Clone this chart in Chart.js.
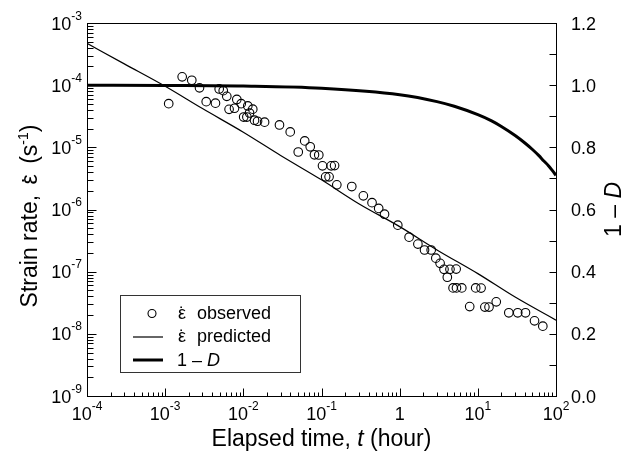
<!DOCTYPE html>
<html lang="en">
<head>
<meta charset="UTF-8">
<title>Strain rate vs elapsed time</title>
<script src="https://cdn.jsdelivr.net/npm/chart.js@4.4.1/dist/chart.umd.min.js"></script>
<style>
  html, body { margin: 0; padding: 0; background: #ffffff; }
  #wrap { width: 632px; height: 454px; }
</style>
</head>
<body>
<div id="wrap"><canvas id="strainChart" width="632" height="454"></canvas></div>
<script>
// observed strain rate (hour, 1/s)
const obsTime = [1.11e-3, 1.65e-3, 2.19e-3, 2.75e-3, 3.35e-3, 4.40e-3, 4.91e-3, 5.53e-3, 6.14e-3, 6.57e-3,
  7.71e-3, 8.25e-3, 9.39e-3, 1.14e-2, 1.32e-2, 1.20e-2, 1.01e-2, 1.11e-2, 1.39e-2, 1.52e-2,
  1.87e-2, 2.90e-2, 3.98e-2, 6.10e-2, 5.04e-2, 7.17e-2, 8.13e-2, 9.23e-2, 0.103, 0.133,
  0.147, 0.113, 0.125, 0.157, 0.244, 0.343, 0.443, 0.539, 0.640, 0.946,
  1.32, 1.71, 2.08, 2.53, 2.90, 3.29, 3.69, 4.40, 5.28, 4.07,
  4.82, 5.33, 6.23, 9.39, 11.0, 7.87, 12.3, 13.9, 17.2, 24.9,
  32.4, 40.7, 53.1, 67.8];
const obsRate = [5.04e-5, 1.36e-4, 1.20e-4, 9.06e-5, 5.43e-5, 5.13e-5, 8.69e-5, 8.16e-5, 6.61e-5, 4.09e-5,
  4.25e-5, 5.89e-5, 5.04e-5, 4.63e-5, 4.11e-5, 3.57e-5, 3.07e-5, 3.07e-5, 2.73e-5, 2.63e-5,
  2.54e-5, 2.29e-5, 1.77e-5, 1.27e-5, 8.41e-6, 1.02e-5, 7.59e-6, 7.53e-6, 5.04e-6, 5.04e-6,
  5.08e-6, 3.35e-6, 3.35e-6, 2.49e-6, 2.34e-6, 1.66e-6, 1.29e-6, 1.04e-6, 8.40e-7, 5.60e-7,
  3.59e-7, 2.78e-7, 2.23e-7, 2.23e-7, 1.65e-7, 1.36e-7, 1.09e-7, 1.09e-7, 1.10e-7, 8.13e-8,
  5.48e-8, 5.48e-8, 5.48e-8, 5.48e-8, 5.44e-8, 2.74e-8, 2.69e-8, 2.69e-8, 3.27e-8, 2.18e-8,
  2.18e-8, 2.18e-8, 1.62e-8, 1.33e-8];

// predicted strain rate
const predTime = [1e-4, 3e-4, 1e-3, 3e-3, 1e-2, 3e-2, 0.1, 0.3, 1, 3, 10, 30, 100];
const predRate = [4.7e-4, 2.2e-4, 9.6e-5, 4.2e-5, 1.75e-5, 7.4e-6, 3.0e-6, 1.24e-6, 5.3e-7, 2.24e-7, 9.3e-8, 3.9e-8, 1.66e-8];

// 1 - D (right axis)
const damTime = [1e-4, 1e-3, 1e-2, 0.1, 1, 3, 5, 10, 15, 20, 30, 40, 50, 60, 70, 80, 90, 100];
const damValue = [1.0, 0.999, 0.997, 0.99, 0.969, 0.947, 0.932, 0.905, 0.885, 0.867, 0.838, 0.814,
  0.793, 0.774, 0.756, 0.741, 0.725, 0.71];

const xTickExp = [-4, -3, -2, -1, 0, 1, 2];
const yTickExp = [-9, -8, -7, -6, -5, -4, -3];
const rightTicks = [0, 0.2, 0.4, 0.6, 0.8, 1.0, 1.2];

const FONT = '"Liberation Sans", Arial, sans-serif';
const EPS = '\u03B5';

function font(size, italic) {
  return (italic ? 'italic ' : '') + size + 'px ' + FONT;
}

// draw a list of text pieces side by side
function drawRuns(ctx, runs, x, y, align) {
  let total = 0;
  runs.forEach(r => {
    ctx.font = font(r.size, r.italic);
    r.w = ctx.measureText(r.text).width + (r.pad || 0);
    total += r.w;
  });
  let cx = x;
  if (align === 'center') cx = x - total / 2;
  if (align === 'right') cx = x - total;
  runs.forEach(r => {
    ctx.font = font(r.size, r.italic);
    ctx.textAlign = 'left';
    ctx.fillText(r.text, cx, y + (r.dy || 0));
    if (r.dot) {
      ctx.textAlign = 'center';
      ctx.fillText('\u02D9', cx + (r.w - (r.pad || 0)) / 2, y + (r.dy || 0) + r.size * 0.08);
      ctx.textAlign = 'left';
    }
    cx += r.w;
  });
}

function pow10Runs(e) {
  return [{ text: '10', size: 18 }, { text: String(e), size: 12, dy: -10 }];
}

const decorPlugin = {
  id: 'decor',
  afterDraw(chart) {
    const ctx = chart.ctx;
    const a = chart.chartArea;
    const xs = chart.scales.x, ys = chart.scales.y, y1 = chart.scales.y1;
    const L = Math.round(a.left) + 0.5, R = Math.round(a.right) + 0.5;
    const T = Math.round(a.top) + 0.5, B = Math.round(a.bottom) + 0.5;
    ctx.save();
    ctx.strokeStyle = '#000';
    ctx.fillStyle = '#000';
    ctx.lineWidth = 1;

    // frame
    ctx.strokeRect(L, T, R - L, B - T);

    // ticks
    ctx.beginPath();
    yTickExp.forEach((e, i) => {
      const v = Math.pow(10, e);
      const py = Math.round(ys.getPixelForValue(v)) + 0.5;
      ctx.moveTo(L, py); ctx.lineTo(L + 9, py);
      if (i < yTickExp.length - 1) {
        for (let m = 2; m <= 9; m++) {
          const q = Math.round(ys.getPixelForValue(m * v)) + 0.5;
          ctx.moveTo(L, q); ctx.lineTo(L + 6, q);
        }
      }
    });
    xTickExp.forEach((e, i) => {
      const v = Math.pow(10, e);
      const px = Math.round(xs.getPixelForValue(v)) + 0.5;
      ctx.moveTo(px, B); ctx.lineTo(px, B - 8);
      if (i < xTickExp.length - 1) {
        for (let m = 2; m <= 9; m++) {
          const q = Math.round(xs.getPixelForValue(m * v)) + 0.5;
          ctx.moveTo(q, B); ctx.lineTo(q, B - 4);
        }
      }
    });
    for (let k = 1; k < 12; k++) {
      const py = Math.round(y1.getPixelForValue(k / 10)) + 0.5;
      ctx.moveTo(R, py); ctx.lineTo(R - 7, py);
    }
    ctx.stroke();

    // tick labels
    ctx.textBaseline = 'alphabetic';
    yTickExp.forEach(e => {
      const py = ys.getPixelForValue(Math.pow(10, e));
      drawRuns(ctx, pow10Runs(e), 82, py + 6.5, 'right');
    });
    xTickExp.forEach(e => {
      const px = xs.getPixelForValue(Math.pow(10, e));
      const runs = e === 0 ? [{ text: '1', size: 18 }] : pow10Runs(e);
      drawRuns(ctx, runs, px, a.bottom + 24, 'center');
    });
    rightTicks.forEach(v => {
      const py = y1.getPixelForValue(v);
      drawRuns(ctx, [{ text: v.toFixed(1), size: 18 }], 571, py + 6.5, 'left');
    });

    // axis titles
    drawRuns(ctx, [{ text: 'Elapsed time, ', size: 23 }, { text: 't', size: 23, italic: true },
      { text: ' (hour)', size: 23 }], (a.left + a.right) / 2, 446, 'center');

    ctx.save();
    ctx.translate(37, 216);
    ctx.rotate(-Math.PI / 2);
    drawRuns(ctx, [{ text: 'Strain rate, ', size: 23, pad: 4 }, { text: EPS, size: 23, dot: true, pad: 4 },
      { text: ' (s', size: 23 }, { text: '-1', size: 14, dy: -9 }, { text: ')', size: 23 }], 0, 0, 'center');
    ctx.restore();

    ctx.save();
    ctx.translate(621, (a.top + a.bottom) / 2);
    ctx.rotate(-Math.PI / 2);
    drawRuns(ctx, [{ text: '1 \u2013 ', size: 23 }, { text: 'D', size: 23, italic: true }], 0, 0, 'center');
    ctx.restore();

    // legend
    ctx.fillStyle = '#fff';
    ctx.fillRect(120.5, 295.5, 180, 77);
    ctx.strokeStyle = '#333';
    ctx.lineWidth = 1;
    ctx.strokeRect(120.5, 295.5, 180, 77);
    ctx.strokeStyle = '#000';
    ctx.fillStyle = '#000';
    ctx.lineWidth = 1.1;
    ctx.beginPath();
    ctx.arc(152, 313.5, 4, 0, Math.PI * 2);
    ctx.stroke();
    ctx.lineWidth = 1.2;
    ctx.beginPath();
    ctx.moveTo(133, 337); ctx.lineTo(163, 337);
    ctx.stroke();
    ctx.lineWidth = 3;
    ctx.beginPath();
    ctx.moveTo(133, 360); ctx.lineTo(163, 360);
    ctx.stroke();
    drawRuns(ctx, [{ text: EPS, size: 18, dot: true }], 178, 318.5, 'left');
    drawRuns(ctx, [{ text: 'observed', size: 18 }], 197, 318.5, 'left');
    drawRuns(ctx, [{ text: EPS, size: 18, dot: true }], 178, 342, 'left');
    drawRuns(ctx, [{ text: 'predicted', size: 18 }], 197, 342, 'left');
    drawRuns(ctx, [{ text: '1 \u2013 ', size: 18 }, { text: 'D', size: 18, italic: true }], 177, 365.5, 'left');

    ctx.restore();
  }
};

const hidden = { display: false };

new Chart(document.getElementById('strainChart'), {
  type: 'scatter',
  data: {
    datasets: [
      {
        label: 'observed',
        data: obsTime.map((t, i) => ({ x: t, y: obsRate[i] })),
        yAxisID: 'y',
        pointStyle: 'circle',
        pointRadius: 4.3,
        pointBorderWidth: 1.1,
        pointBorderColor: '#000',
        pointBackgroundColor: 'rgba(0,0,0,0)',
        showLine: false
      },
      {
        label: 'predicted',
        data: predTime.map((t, i) => ({ x: t, y: predRate[i] })),
        yAxisID: 'y',
        showLine: true,
        borderColor: '#000',
        borderWidth: 1.2,
        pointRadius: 0,
        cubicInterpolationMode: 'monotone'
      },
      {
        label: '1 - D',
        data: damTime.map((t, i) => ({ x: t, y: damValue[i] })),
        yAxisID: 'y1',
        showLine: true,
        borderColor: '#000',
        borderWidth: 3,
        pointRadius: 0,
        cubicInterpolationMode: 'monotone'
      }
    ]
  },
  options: {
    responsive: false,
    animation: false,
    devicePixelRatio: 1,
    layout: { padding: { top: 23, left: 0, right: 0, bottom: 0 } },
    plugins: { legend: hidden, tooltip: { enabled: false } },
    scales: {
      x: {
        type: 'logarithmic', min: 1e-4, max: 100,
        ticks: hidden, grid: hidden, border: hidden,
        afterFit: s => { s.height = 58; }
      },
      y: {
        type: 'logarithmic', position: 'left', min: 1e-9, max: 1e-3,
        ticks: hidden, grid: hidden, border: hidden,
        afterFit: s => { s.width = 87; }
      },
      y1: {
        type: 'linear', position: 'right', min: 0, max: 1.2,
        ticks: hidden, grid: hidden, border: hidden,
        afterFit: s => { s.width = 76; }
      }
    }
  },
  plugins: [decorPlugin]
});
</script>
</body>
</html>
